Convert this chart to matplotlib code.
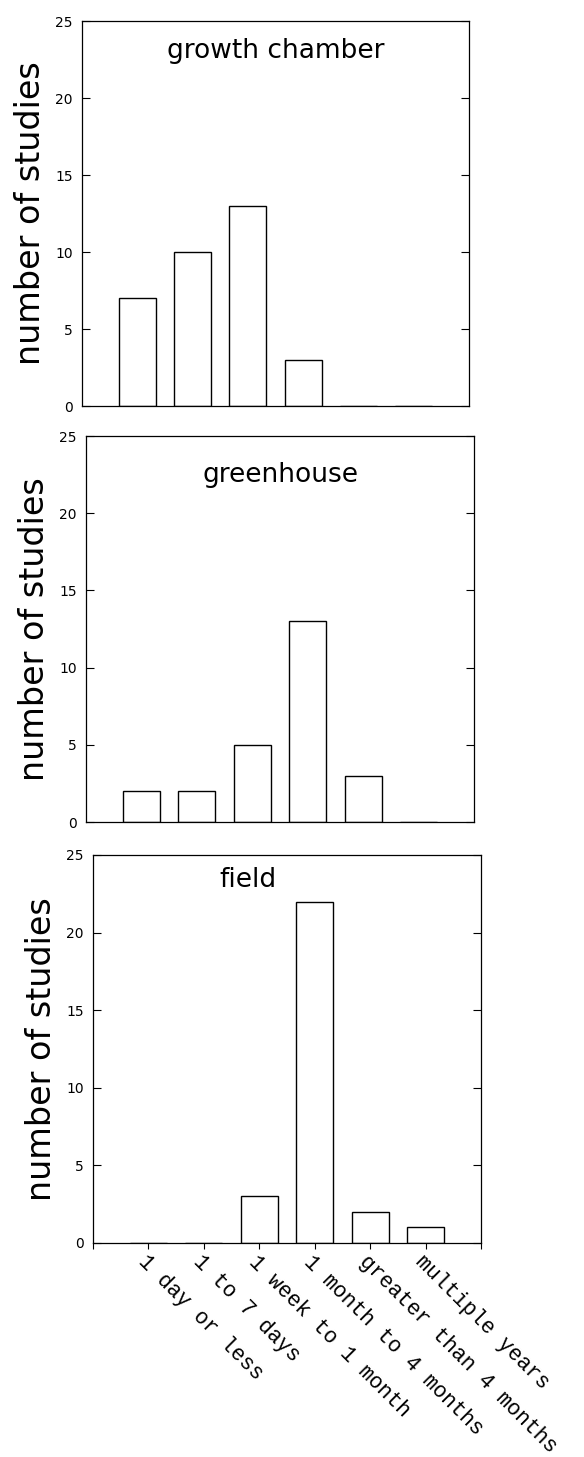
import numpy as np
import matplotlib
matplotlib.use("Agg")
import matplotlib.pyplot as plt

# duration of experiment categories
categories = ["1 day or less", "1 to 7 days", "1 week to 1 month",
              "1 month to 4 months", "greater than 4 months", "multiple years"]

# number of studies per setting
growth_chamber = [7, 10, 13, 3, 0, 0]
greenhouse = [2, 2, 5, 13, 3, 0]
field = [0, 0, 3, 22, 2, 1]

panel_names = ["growth chamber", "greenhouse", "field"]
yticks = [0, 5, 10, 15, 20, 25]

plt.rcParams["font.family"] = ["DejaVu Sans"]

fig = plt.figure(figsize=(5.84, 14.57), dpi=100)

# axes rectangles (slightly skewed)
rects = [
    [0.1404, 0.7213, 0.6627, 0.2642],
    [0.1473, 0.4358, 0.6644, 0.2649],
    [0.1592, 0.1469, 0.6644, 0.2663],
]
title_pos = [(0.5, 0.922), (0.5, 0.90), (0.40, 0.935)]
data = [growth_chamber, greenhouse, field]

x = np.arange(1, len(categories) + 1)

for i, (rect, vals, name) in enumerate(zip(rects, data, panel_names)):
    ax = fig.add_axes(rect)
    ax.bar(x, vals, width=0.67, color="white", edgecolor="black", linewidth=1.0)
    ax.set_xlim(0, 7)
    ax.set_ylim(0, 25)
    ax.set_yticks(yticks)
    ax.tick_params(axis="y", direction="in", right=True, length=5.5, width=0.8,
                   pad=6.5, labelsize=10)
    for sp in ax.spines.values():
        sp.set_linewidth(0.9)
    ax.text(title_pos[i][0], title_pos[i][1], name, transform=ax.transAxes,
            ha="center", va="center", fontsize=19)
    ax.set_ylabel("number of studies", fontsize=24, va="center")
    ax.yaxis.set_label_coords(-0.132, 0.5)

    if i < 2:
        ax.set_xticks([])
    else:
        ax.set_xticks(np.arange(0, 8))
        ax.set_xticklabels([""] + categories + [""], rotation=-45, ha="left",
                           va="top", rotation_mode="anchor",
                           family="Liberation Mono", fontsize=15.5)
        ax.tick_params(axis="x", direction="out", length=4, width=0.8, pad=2)

fig.savefig("out.png", dpi=100)
